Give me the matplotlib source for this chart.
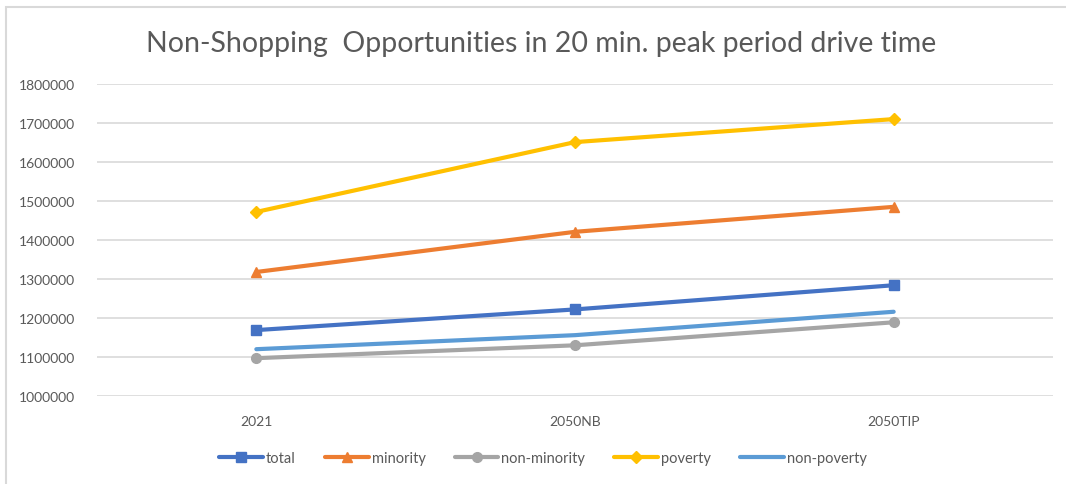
import matplotlib.pyplot as plt
import numpy as np
from matplotlib.patches import Rectangle

categories = ['2021', '2050NB', '2050TIP']
total = [1169000, 1222000, 1284000]
minority = [1318000, 1421000, 1485000]
non_minority = [1097000, 1130000, 1189000]
poverty = [1472000, 1651000, 1710000]
non_poverty = [1120000, 1156000, 1216000]

series = [
    ('total', total, '#4472C4', 's'),
    ('minority', minority, '#ED7D31', '^'),
    ('non-minority', non_minority, '#A5A5A5', 'o'),
    ('poverty', poverty, '#FFC000', 'D'),
    ('non-poverty', non_poverty, '#5B9BD5', None),
]

plt.rcParams['font.family'] = ['Lato', 'DejaVu Sans']
text_col = '#595959'

fig = plt.figure(figsize=(10.66, 4.85), dpi=100)
ax = fig.add_axes([97 / 1066, 1 - 397 / 485, 956 / 1066, 312 / 485])

# outer chart frame (only top/left visible in the crop)
fig.patches.append(Rectangle((6 / 1066, -0.1), 1.2, 1 - 8 / 485 + 0.1,
                             transform=fig.transFigure, fill=False,
                             edgecolor='#D9D9D9', linewidth=1.5))

x = np.arange(len(categories)) + 0.5
for name, vals, col, mk in series:
    ms = 7 if mk != 'D' else 6
    ax.plot(x, vals, color=col, linewidth=3, marker=mk, markersize=ms,
            markeredgecolor=col, markerfacecolor=col, label=name,
            solid_capstyle='round')

ax.set_xlim(0, 3)
ax.set_ylim(1000000, 1800000)
ax.set_yticks(np.arange(1000000, 1800001, 100000))
ax.yaxis.set_major_formatter(plt.FuncFormatter(lambda v, p: f'{int(v)}'))
ax.set_xticks(x)
ax.set_xticklabels(categories)
ax.tick_params(axis='both', length=0, labelsize=10, colors=text_col)
ax.tick_params(axis='y', pad=16)
ax.tick_params(axis='x', pad=14)
ax.grid(axis='y', color='#D9D9D9', linewidth=1.2)
ax.set_axisbelow(True)
for s in ax.spines.values():
    s.set_visible(False)

fig.text(541 / 1066, 1 - 44 / 485, 'Non-Shopping  Opportunities in 20 min. peak period drive time',
         ha='center', va='center', fontsize=20.5, color=text_col)

fig.legend(loc='center', bbox_to_anchor=(543 / 1066, 1 - 459 / 485), ncol=5,
           frameon=False, fontsize=10.5, labelcolor=text_col, handlelength=3,
           columnspacing=2.0, handletextpad=0.2)

fig.savefig('out.png', dpi=100, facecolor='white')
